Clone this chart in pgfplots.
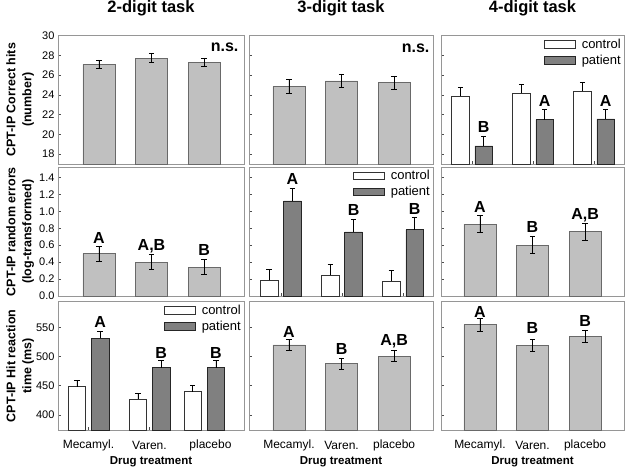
\documentclass[border=0pt]{standalone}
\usepackage{pgfplots}
\pgfplotsset{compat=1.18}
\usepackage{pgfplotstable}
\usepackage{fontspec}
\setmainfont{Liberation Sans}
\definecolor{framegray}{RGB}{150,150,150}
\definecolor{barlight}{RGB}{192,192,192}
\definecolor{baredge}{RGB}{105,105,105}
\definecolor{patientgray}{RGB}{128,128,128}

% single-bar data: x, mean, sem
\pgfplotstableread{
x y e
0 27.10 0.45
1 27.72 0.45
2 27.30 0.45
}\hitsTwo
\pgfplotstableread{
x y e
0 24.85 0.70
1 25.43 0.70
2 25.26 0.67
}\hitsThree
% grouped: x, control, control sem, patient, patient sem
\pgfplotstableread{
x c ce p pe
0 23.87 0.85 18.83 1.00
1 24.21 0.85 21.50 1.05
2 24.38 0.88 21.57 0.95
}\hitsFour
\pgfplotstableread{
x y e
0 0.50 0.09
1 0.40 0.09
2 0.34 0.09
}\errTwo
\pgfplotstableread{
x c ce p pe
0 0.185 0.13 1.124 0.15
1 0.248 0.13 0.758 0.15
2 0.177 0.13 0.782 0.15
}\errThree
\pgfplotstableread{
x y e
0 0.850 0.10
1 0.600 0.10
2 0.763 0.10
}\errFour
\pgfplotstableread{
x c ce p pe
0   448.3 10.5 531.6 11.4
1   427.2 10.3 481.0 12.0
1.9 440.0 10.0 481.0 12.0
}\rtTwo
\pgfplotstableread{
x y e
0 519.9 10.0
1 488.0  9.7
2 500.5  9.6
}\rtThree
\pgfplotstableread{
x y e
0 554.5 10.6
1 519.7 10.2
2 535.1 10.5
}\rtFour

\pgfplotsset{
  panel/.style={scale only axis, anchor=north west, ybar,
    axis line style={draw=framegray, line width=0.8pt},
    tick style={draw=black!70, line width=0.5pt}, major tick length=3pt, tick align=inside,
    xtick={0,1,2}, xticklabels={}, xtick pos=bottom, ytick pos=left,
    /pgf/number format/assume math mode=true,
    tick label style={font=\fontsize{11}{13}\selectfont},
    ylabel style={font=\bfseries\fontsize{12.5}{16}\selectfont, align=center,
      at={(rel axis cs:-0.204,0.5)}, anchor=center},
    xlabel style={font=\bfseries\fontsize{11.5}{13}\selectfont,
      at={(rel axis cs:0.5,0)}, anchor=center, yshift=-32pt},
    xticklabel style={font=\fontsize{12}{13}\selectfont, anchor=center, yshift=-15pt},
    title style={font=\bfseries\fontsize{16.5}{18}\selectfont, at={(rel axis cs:0.5,1)}, anchor=center, yshift=21.7pt},
    legend image code/.code={\draw[#1] (0pt,-3.8pt) rectangle (31pt,3.8pt); \path (35pt,0pt);},
    legend style={at={(1,1)}, anchor=north east, draw=none, fill=none,
      font=\fontsize{13}{15}\selectfont, row sep=1pt, inner sep=1pt, cells={anchor=west}},
    clip=false},
  noylab/.style={yticklabels={}},
  singleL/.style={xmin=-0.78, xmax=2.76},
  singleM/.style={xmin=-0.76, xmax=2.74},
  singleR/.style={xmin=-0.74, xmax=2.74},
  single/.style={fill=barlight, draw=baredge, line width=0.6pt, bar width=0.61, bar shift=0,
    error bars/.cd, y dir=both, y explicit,
    error bar style={black, line width=0.7pt},
    error mark options={black, mark size=2.7pt, line width=0.7pt, rotate=90}},
  ctrl/.style={fill=white, draw=black!80, line width=0.6pt, bar width=0.29, bar shift=-0.19,
    error bars/.cd, y dir=plus, y explicit,
    error bar style={black, line width=0.7pt},
    error mark options={black, mark size=2.7pt, line width=0.7pt, rotate=90}},
  pat/.style={fill=patientgray, draw=black!85, line width=0.6pt, bar width=0.29, bar shift=0.19,
    error bars/.cd, y dir=plus, y explicit,
    error bar style={black, line width=0.7pt},
    error mark options={black, mark size=2.7pt, line width=0.7pt, rotate=90}},
  rowA/.style={ymin=17, ymax=30, ytick={18,20,...,30}, height=128.3pt},
  rowB/.style={ymin=0, ymax=1.52, ytick={0,0.2,...,1.4}, height=128.7pt,
    yticklabel style={/pgf/number format/.cd, fixed, fixed zerofill, precision=1}},
  rowC/.style={ymin=374, ymax=594, ytick={400,450,500,550}, height=128.3pt},
}
\tikzset{lett/.style={font=\bfseries\fontsize{16}{16}\selectfont, inner sep=0pt, anchor=center}}

\begin{document}
\begin{tikzpicture}
\path[use as bounding box] (0pt,0pt) rectangle (629pt,-473pt);

% ---------------- Row 1 ----------------
\begin{axis}[panel, rowA, singleL, at={(58pt,-35.7pt)}, width=186pt,
  title={2-digit task}, ylabel={CPT-IP Correct hits\\(number)}]
\addplot[single] table[x=x, y=y, y error=e] {\hitsTwo};
\node[lett] at (axis cs:2.39,28.84) {n.s.};
\end{axis}

\begin{axis}[panel, rowA, singleM, noylab, at={(249pt,-35.7pt)}, width=184pt,
  title={3-digit task}]
\addplot[single] table[x=x, y=y, y error=e] {\hitsThree};
\node[lett] at (axis cs:2.41,28.68) {n.s.};
\end{axis}

\begin{axis}[panel, rowA, noylab, xmin=-0.51, xmax=2.49, at={(441pt,-35.7pt)}, width=183pt,
  title={4-digit task}]
\addplot[ctrl] table[x=x, y=c, y error=ce] {\hitsFour};
\addplot[pat] table[x=x, y=p, y error=pe] {\hitsFour};
\legend{control, patient}
\node[lett] at (axis cs:0.19,20.72) {B};
\node[lett] at (axis cs:1.19,23.43) {A};
\node[lett] at (axis cs:2.19,23.43) {A};
\end{axis}

% ---------------- Row 2 ----------------
\begin{axis}[panel, rowB, singleL, at={(58pt,-167.3pt)}, width=186pt,
  ylabel={CPT-IP random errors\\(log-transformed)}]
\addplot[single] table[x=x, y=y, y error=e] {\errTwo};
\node[lett] at (axis cs:0,0.69) {A};
\node[lett] at (axis cs:1,0.59) {A,B};
\node[lett] at (axis cs:2,0.54) {B};
\end{axis}

\begin{axis}[panel, rowB, noylab, xmin=-0.52, xmax=2.49, at={(249pt,-167.3pt)}, width=184pt]
\addplot[ctrl] table[x=x, y=c, y error=ce] {\errThree};
\addplot[pat] table[x=x, y=p, y error=pe] {\errThree};
\legend{control, patient}
\node[lett] at (axis cs:0.19,1.38) {A};
\node[lett] at (axis cs:1.19,1.014) {B};
\node[lett] at (axis cs:2.19,1.03) {B};
\end{axis}

\begin{axis}[panel, rowB, singleR, noylab, at={(441pt,-167.3pt)}, width=183pt]
\addplot[single] table[x=x, y=y, y error=e] {\errFour};
\node[lett] at (axis cs:0,1.053) {A};
\node[lett] at (axis cs:1,0.81) {B};
\node[lett] at (axis cs:2,0.955) {A,B};
\end{axis}

% ---------------- Row 3 ----------------
\begin{axis}[panel, rowC, xmin=-0.5, xmax=2.55, at={(58pt,-301.7pt)}, width=186pt,
  xticklabels={Mecamyl.,Varen.,placebo}, xlabel={Drug treatment},
  ylabel={CPT-IP Hit reaction\\time (ms)}]
\addplot[ctrl] table[x=x, y=c, y error=ce] {\rtTwo};
\addplot[pat] table[x=x, y=p, y error=pe] {\rtTwo};
\legend{control, patient}
\node[lett] at (axis cs:0.19,559.6) {A};
\node[lett] at (axis cs:1.19,506.8) {B};
\node[lett] at (axis cs:2.09,506.8) {B};
\end{axis}

\begin{axis}[panel, rowC, singleM, noylab, at={(249pt,-301.7pt)}, width=184pt,
  xticklabels={Mecamyl.,Varen.,placebo}, xlabel={Drug treatment}]
\addplot[single] table[x=x, y=y, y error=e] {\rtThree};
\node[lett] at (axis cs:0,542.5) {A};
\node[lett] at (axis cs:1,512.7) {B};
\node[lett] at (axis cs:2,525.6) {A,B};
\end{axis}

\begin{axis}[panel, rowC, singleR, noylab, at={(441pt,-301.7pt)}, width=183pt,
  xticklabels={Mecamyl.,Varen.,placebo}, xlabel={Drug treatment}]
\addplot[single] table[x=x, y=y, y error=e] {\rtFour};
\node[lett] at (axis cs:0,576.7) {A};
\node[lett] at (axis cs:1,548.3) {B};
\node[lett] at (axis cs:2,561.3) {B};
\end{axis}
\end{tikzpicture}
\end{document}
